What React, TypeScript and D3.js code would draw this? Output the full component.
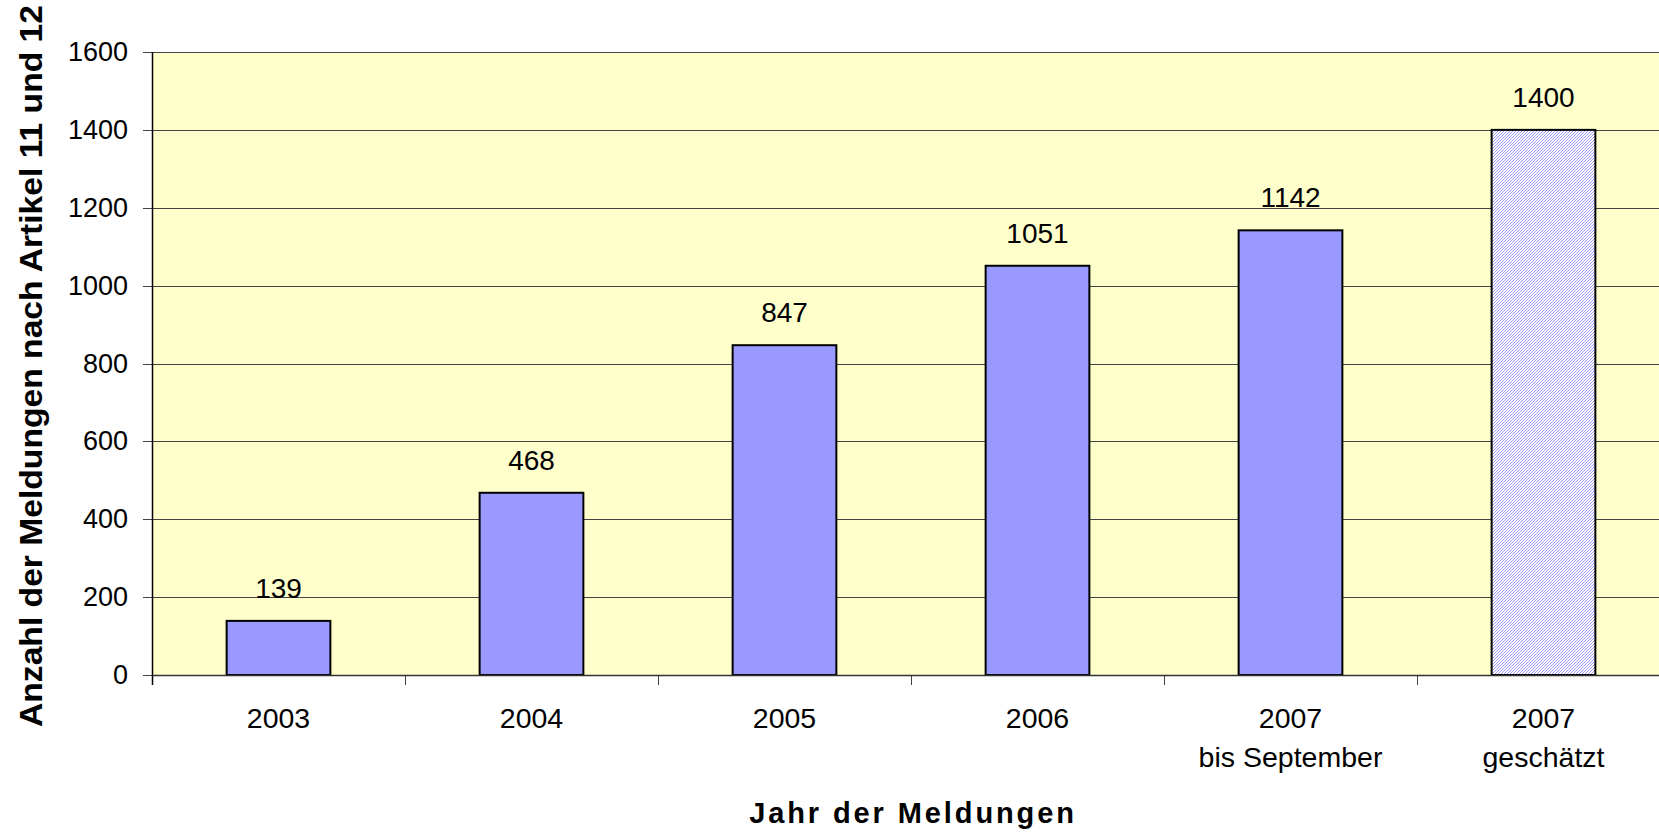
import React from "react";
import * as d3 from "d3";

const categories = ["2003", "2004", "2005", "2006", "2007|bis September", "2007|geschätzt"];
const values = [139, 468, 847, 1051, 1142, 1400];
const hatched = [false, false, false, false, false, true];
const yTicks = [0, 200, 400, 600, 800, 1000, 1200, 1400, 1600];
const yTitle = "Anzahl der Meldungen nach Artikel 11 und 12";
const xTitle = "Jahr der Meldungen";

const W = 1659;
const H = 834;
const left = 152;
const right = 1670;
const top = 52;
const bottom = 675;

export default function App() {
  const x = d3.scaleBand<string>().domain(categories).range([left, right]).padding(0);
  const y = d3.scaleLinear().domain([0, 1600]).range([bottom, top]);
  const bw = x.bandwidth() * 0.41;
  const font = "'Liberation Sans', Arial, sans-serif";
  return (
    <svg width={W} height={H} style={{ position: "absolute", left: 0, top: 0 }} fontFamily={font}>
      <defs>
        <pattern id="hatch" width="3" height="3" patternUnits="userSpaceOnUse">
          <rect width="3" height="3" fill="#ffffff" />
          <path d="M-1,1 l2,-2 M0,3 l3,-3 M2,4 l2,-2" stroke="#9999ff" strokeWidth="1" />
        </pattern>
      </defs>
      <rect x={0} y={0} width={W} height={H} fill="#ffffff" />
      <rect x={left} y={top} width={right - left} height={bottom - top} fill="#ffffcc" />
      {yTicks.map((t) => (
        <g key={t}>
          <line x1={left - 9} x2={right} y1={Math.round(y(t)) + 0.5} y2={Math.round(y(t)) + 0.5} stroke="#444" strokeWidth={1} />
          <text x={128} y={y(t) + 9} textAnchor="end" fontSize={27} fill="#000">{t}</text>
        </g>
      ))}
      {categories.map((c, i) => {
        const cx = (x(c) as number) + x.bandwidth() / 2;
        const yv = y(values[i]);
        return (
          <g key={c}>
            <rect x={cx - bw / 2} y={yv} width={bw} height={bottom - yv}
              fill={hatched[i] ? "url(#hatch)" : "#9999ff"} stroke="#000" strokeWidth={2} />
            <text x={cx} y={yv - 23} textAnchor="middle" fontSize={28} fill="#000">{values[i]}</text>
            {c.split("|").map((line, j) => (
              <text key={j} x={cx} y={728 + j * 39} textAnchor="middle" fontSize={28.5} fill="#000">{line}</text>
            ))}
          </g>
        );
      })}
      {categories.map((c, i) => (
        <line key={"t" + i} x1={Math.round(x(c) as number) + 0.5} x2={Math.round(x(c) as number) + 0.5} y1={bottom} y2={bottom + 10} stroke="#444" strokeWidth={1} />
      ))}
      <line x1={left} x2={right} y1={bottom + 0.5} y2={bottom + 0.5} stroke="#333" strokeWidth={1.5} />
      <line x1={left + 0.5} x2={left + 0.5} y1={top} y2={bottom + 10} stroke="#000" strokeWidth={1.5} />
      <text transform={`translate(42,366) rotate(-90)`} textAnchor="middle" fontSize={31} fontWeight="bold" fill="#000"
        textLength={722} lengthAdjust="spacingAndGlyphs">{yTitle}</text>
      <text x={913} y={823} textAnchor="middle" fontSize={29} fontWeight="bold" fill="#000"
        letterSpacing={2.9}>{xTitle}</text>
    </svg>
  );
}
